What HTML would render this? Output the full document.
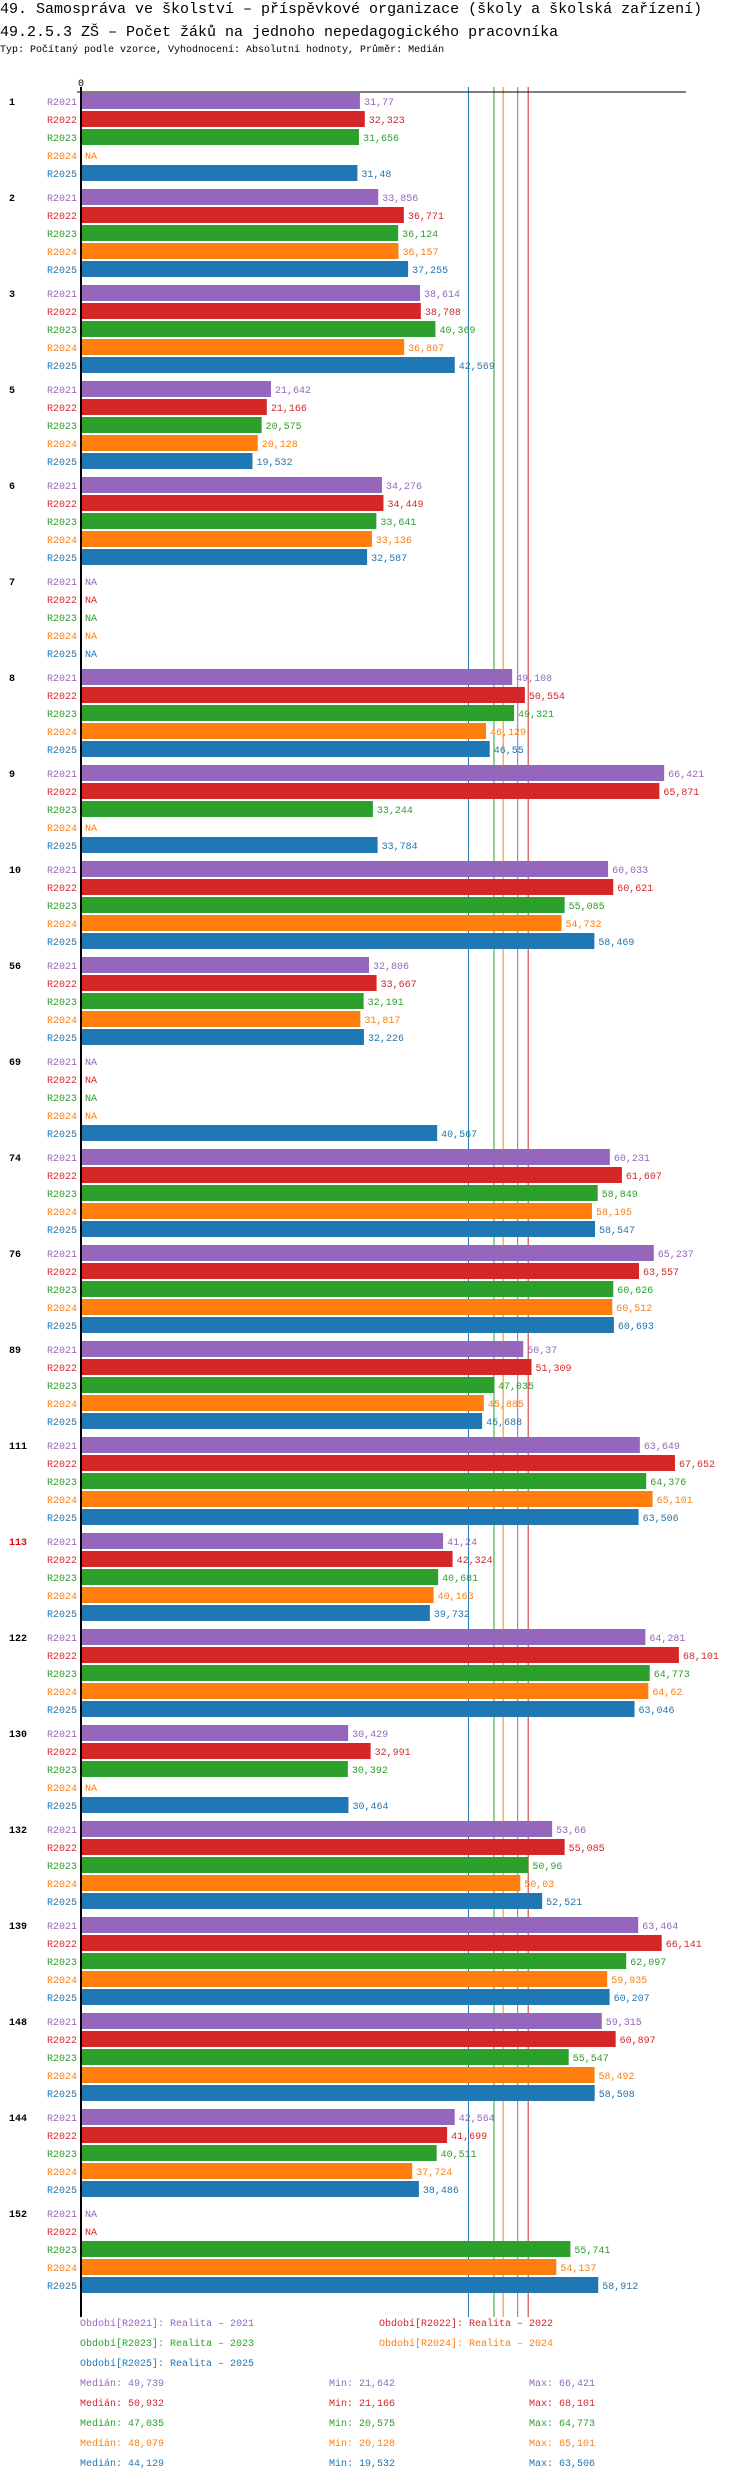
<!DOCTYPE html>
<html><head><meta charset="utf-8"><style>
html,body{margin:0;padding:0;background:#fff;}
svg{display:block;font-family:"Liberation Mono",monospace;}
</style></head><body>
<svg id="chart" width="750" height="2480" xmlns="http://www.w3.org/2000/svg">
<text x="0" y="13" font-size="15">49. Samospráva ve školství – příspěvkové organizace (školy a školská zařízení)</text>
<text x="0" y="36" font-size="15">49.2.5.3 ZŠ – Počet žáků na jednoho nepedagogického pracovníka</text>
<text x="0" y="52" font-size="10">Typ: Počítaný podle vzorce, Vyhodnocení: Absolutní hodnoty, Průměr: Medián</text>
<g id="lines"></g><g id="bars"></g><g id="legend"></g>
</svg>
<script>
const categories = ["1","2","3","5","6","7","8","9","10","56","69","74","76","89","111","113","122","130","132","139","148","144","152"];
const seriesNames = ["R2021","R2022","R2023","R2024","R2025"];
const r2021 = [31.77,33.856,38.614,21.642,34.276,null,49.108,66.421,60.033,32.806,null,60.231,65.237,50.37,63.649,41.24,64.281,30.429,53.66,63.464,59.315,42.564,null];
const r2022 = [32.323,36.771,38.708,21.166,34.449,null,50.554,65.871,60.621,33.667,null,61.607,63.557,51.309,67.652,42.324,68.101,32.991,55.085,66.141,60.897,41.699,null];
const r2023 = [31.656,36.124,40.369,20.575,33.641,null,49.321,33.244,55.085,32.191,null,58.849,60.626,47.035,64.376,40.681,64.773,30.392,50.96,62.097,55.547,40.511,55.741];
const r2024 = [null,36.157,36.807,20.128,33.136,null,46.129,null,54.732,31.817,null,58.195,60.512,45.885,65.101,40.163,64.62,null,50.03,59.935,58.492,37.724,54.137];
const r2025 = [31.48,37.255,42.569,19.532,32.587,null,46.55,33.784,58.469,32.226,40.567,58.547,60.693,45.688,63.506,39.732,63.046,30.464,52.521,60.207,58.508,38.486,58.912];
const medians = [49.739,50.932,47.035,48.079,44.129];
const mins = [21.642,21.166,20.575,20.128,19.532];
const maxs = [66.421,68.101,64.773,65.101,63.506];
const legendText = ["Období[R2021]: Realita – 2021","Období[R2022]: Realita – 2022","Období[R2023]: Realita – 2023","Období[R2024]: Realita – 2024","Období[R2025]: Realita – 2025"];
const highlighted = ["113"];

const series = [r2021,r2022,r2023,r2024,r2025];
const colors = ["#9467bd","#d62728","#2ca02c","#ff7f0e","#1f77b4"];
const NS = "http://www.w3.org/2000/svg";
const X0 = 81, K = 8.78, TOP = 92, GP = 96, BP = 18, BH = 16;
const xs = v => X0 + v * K;
const fmt = v => String(v).replace('.', ',');
function mk(tag, attrs, parent, txt){
  const e = document.createElementNS(NS, tag);
  for (const k in attrs) e.setAttribute(k, attrs[k]);
  if (txt !== undefined) e.textContent = txt;
  parent.appendChild(e); return e;
}
const svg = document.getElementById('chart');
const gl = document.getElementById('lines'), gb = document.getElementById('bars'), gL = document.getElementById('legend');
const bottom = TOP + GP * (categories.length - 1) + 4 * BP + BH + 25;

// median lines
medians.forEach((m, i) => {
  const l = mk('line', {x1: xs(m), x2: xs(m), y1: TOP - 5, y2: bottom, stroke: colors[i], 'stroke-width': 1}, gl);
  
  
});
// axes
const ax = mk('line', {x1: X0 - 4, x2: 686, y1: TOP, y2: TOP, stroke: '#000', 'stroke-width': 1}, gl);


const ay = mk('line', {x1: X0, x2: X0, y1: TOP - 5, y2: bottom, stroke: '#000', 'stroke-width': 2}, gl);


const z = mk('text', {x: X0, y: 86, 'font-size': 10, 'text-anchor': 'middle'}, gl, '0');



categories.forEach((c, gi) => {
  const gy = TOP + 1 + gi * GP;
  const cl = mk('text', {x: 9, y: gy + 12, 'font-size': 10, 'font-weight': 'bold', fill: highlighted.includes(c) ? '#e00' : '#000'}, gb, c);
  
  
  series.forEach((s, si) => {
    const y = gy + si * BP;
    const v = s[gi];
    const yl = mk('text', {x: 77, y: y + 12, 'font-size': 10, 'text-anchor': 'end', fill: colors[si]}, gb, seriesNames[si]);
    
    
    if (v === null) {
      const na = mk('text', {x: X0 + 4, y: y + 12, 'font-size': 10, fill: colors[si]}, gb, 'NA');
      
      
      return;
    }
    const r = mk('rect', {x: X0 + 1, y: y, width: xs(v) - X0 - 1, height: BH, fill: colors[si]}, gb);
    
    
    const t = mk('text', {x: xs(v) + 4, y: y + 12, 'font-size': 10, fill: colors[si]}, gb, fmt(v));
    
    
  });
});

// legend
const legPos = [[80,2326],[379,2326],[80,2346],[379,2346],[80,2366]];
legendText.forEach((t, i) => {
  const e = mk('text', {x: legPos[i][0], y: legPos[i][1], 'font-size': 10, fill: colors[i]}, gL, t);
  
  
});
medians.forEach((m, i) => {
  const y = 2386 + i * 20;
  const a = mk('text', {x: 80, y: y, 'font-size': 10, fill: colors[i]}, gL, 'Medián: ' + fmt(m));
  
  
  const b = mk('text', {x: 329, y: y, 'font-size': 10, fill: colors[i]}, gL, 'Min: ' + fmt(mins[i]));
  
  
  const d = mk('text', {x: 529, y: y, 'font-size': 10, fill: colors[i]}, gL, 'Max: ' + fmt(maxs[i]));
  
  
});
</script>
</body></html>
